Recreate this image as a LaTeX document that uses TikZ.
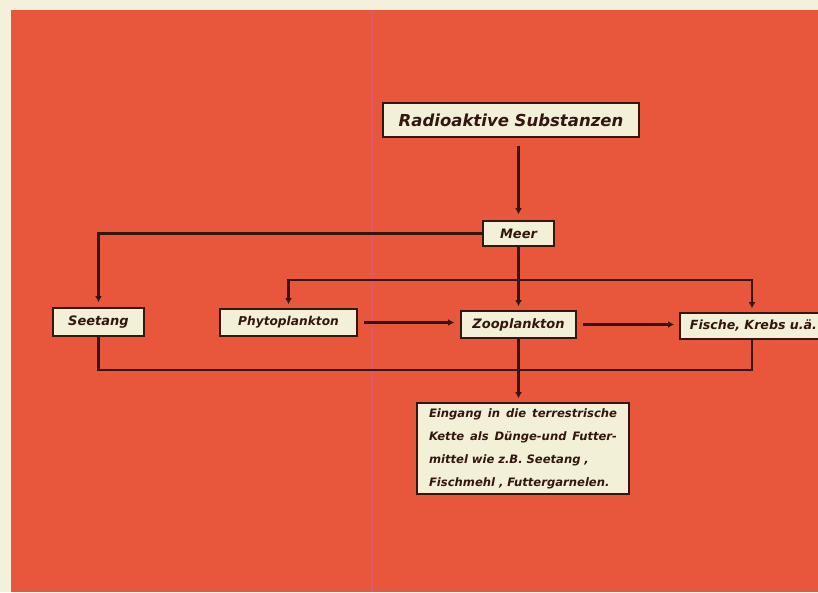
\documentclass[tikz,border=0pt]{standalone}
\usepackage{fontspec}
\setmainfont{DejaVu Sans}
\usetikzlibrary{arrows.meta}
\definecolor{bgred}{HTML}{E8573B}
\definecolor{cream}{HTML}{F4F1DA}
\definecolor{boxfill}{HTML}{F3F0D8}
\definecolor{ink}{HTML}{33170F}
\definecolor{fold}{HTML}{E0566A}
\begin{document}
\begin{tikzpicture}[x=1pt,y=-1pt,
  box/.style={draw=ink, line width=1.8pt, fill=boxfill, text=ink, inner sep=0pt,
    font=\fontsize{13}{15}\selectfont\bfseries\itshape},
  conn/.style={draw=ink, line width=2.6pt},
  arr/.style={conn, -{Latex[length=6pt,width=7pt]}}]
\useasboundingbox (0,0) rectangle (818,592);
\fill[cream] (0,0) rectangle (818,592);
\fill[bgred] (11,10) rectangle (818,592);
\draw[fold, line width=1.5pt] (372,10) -- (372,592);

\node[box, minimum width=256, minimum height=34,
  font=\fontsize{16.5}{20}\selectfont\bfseries\itshape] (rad) at (511,120) {Radioaktive Substanzen};
\node[box, minimum width=71, minimum height=25] (meer) at (518.5,233.5) {Meer};
\node[box, minimum width=91, minimum height=28] (see) at (98.5,322) {Seetang};
\node[box, minimum width=137, minimum height=27,
  font=\fontsize{12.2}{15}\selectfont\bfseries\itshape] (phyto) at (288.5,322.5) {Phytoplankton};
\node[box, minimum width=115, minimum height=27] (zoo) at (518.5,324.5) {Zooplankton};
\node[box, anchor=west, inner xsep=10pt, minimum height=26,
  font=\fontsize{12.6}{15}\selectfont\bfseries\itshape] (fische) at (679,326) {Fische, Krebs u.ä.};
\node[box, minimum width=212, minimum height=91, text width=188pt, align=left,
  font=\fontsize{11.6}{23}\selectfont\bfseries\itshape] (ein) at (523,448.5)
  {\leavevmode\hbox to 188pt{Eingang\hfill in\hfill die\hfill terrestrische}\\
   \leavevmode\hbox to 188pt{Kette\hfill als\hfill Dünge-und\hfill Futter-}\\
   mittel wie z.B. Seetang ,\\
   Fischmehl , Futtergarnelen.};

\path (fische.north west) ++(73,0) coordinate (fn);
\path (fische.south west) ++(73,0) coordinate (fs);
\path (meer.south) ++(0,33) coordinate (j1);
\path (zoo.south) ++(0,31) coordinate (j2);

% Radioaktive -> Meer
\draw[arr, shorten <=8pt, shorten >=6pt] (rad.south -| meer.north) -- (meer.north);
% Meer -> Seetang
\draw[arr, shorten >=5pt] (meer.west) -| (see.north);
% Meer -> Zooplankton
\draw[arr, shorten >=4pt] (meer.south) -- (zoo.north);
% branch -> Phytoplankton and Fische
\draw[arr, shorten >=4pt] (j1) -| (phyto.north);
\draw[arr, shorten >=4pt] (j1) -| (fn);
% chain
\draw[arr, shorten <=6pt, shorten >=6pt] (phyto.east) -- (zoo.west |- phyto.east);
\draw[arr, shorten <=6pt, shorten >=5pt] (zoo.east) -- (fische.west |- zoo.east);
% collector line Seetang ... Fische
\draw[conn] (see.south) |- (j2) -| (fs);
% Zooplankton -> Eingang
\draw[arr, shorten >=4pt] (zoo.south) -- (ein.north -| zoo.south);
\end{tikzpicture}
\end{document}
